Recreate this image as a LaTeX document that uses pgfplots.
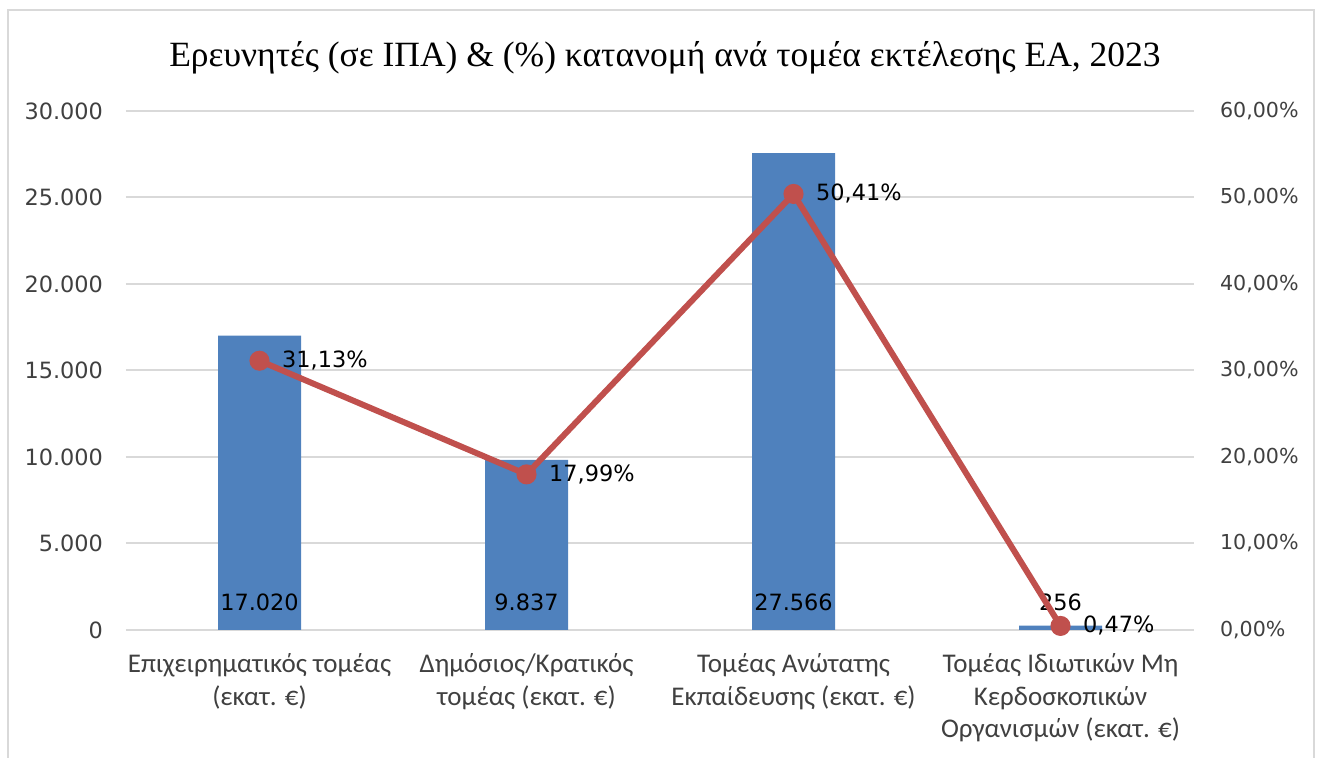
\documentclass[border=0pt]{standalone}
\usepackage{fontspec}
\setmainfont{Liberation Serif}
\newfontfamily\dejavu{DejaVu Sans}
\newfontfamily\carlito{Carlito}
\usepackage{pgfplots}
\pgfplotsset{compat=1.18}
\usetikzlibrary{calc}
\definecolor{barblue}{HTML}{4F81BD}
\definecolor{linered}{HTML}{C0504D}
\definecolor{gridgray}{HTML}{D9D9D9}
\definecolor{txt}{HTML}{404040}
\tikzset{lbl/.style={font=\dejavu\fontsize{11.2}{13}\selectfont,text=black}}

\begin{document}
\begin{tikzpicture}
\pgfplotsset{
  base/.style={scale only axis,width=534pt,height=259.5pt,
    xmin=-0.5,xmax=3.5,axis line style={draw=none},major tick length=0pt,
    tick label style={text=txt},
    clip=false}
}
\begin{axis}[base,name=ax,
  ymin=0,ymax=30000,ytick={0,5000,...,30000},
  scaled y ticks=false,
  yticklabel style={font=\dejavu\fontsize{11.2}{13}\selectfont,xshift=-8pt,/pgf/number format/1000 sep={.},/pgf/number format/assume math mode=true},
  ymajorgrids,grid style={gridgray,line width=1pt},
  xtick={0,1,2,3},
  xticklabels={{Επιχειρηματικός τομέας\\(εκατ. €)},{Δημόσιος/Κρατικός\\τομέας (εκατ. €)},{Τομέας Ανώτατης\\Εκπαίδευσης (εκατ. €)},{Τομέας Ιδιωτικών Μη\\Κερδοσκοπικών\\Οργανισμών (εκατ. €)}},
  xticklabel style={font=\carlito\fontsize{13.5}{16.3}\selectfont,align=center,text=txt,yshift=-8.3pt},
  title={Ερευνητές (σε ΙΠΑ) \& (\%) κατανομή ανά τομέα εκτέλεσης ΕΑ, 2023},
  title style={font=\fontsize{17.75}{21}\selectfont,at={(0.5,1)},anchor=center,yshift=20.5pt,xshift=2.5pt}]
\addplot[ybar,bar width=41.5pt,fill=barblue,draw=none] coordinates {(0,17020) (1,9837) (2,27566) (3,256)};
\addplot[draw=none,mark=none,nodes near coords,point meta=explicit symbolic,
  nodes near coords style={lbl,anchor=center,yshift=14pt}]
  coordinates {(0,0)[17.020] (1,0)[9.837] (2,0)[27.566] (3,0)[256]};
\end{axis}
\begin{axis}[base,
  ymin=0,ymax=60,ytick={0,10,...,60},
  axis y line*=right,axis x line=none,
  yticklabel={\pgfmathprintnumber[fixed,fixed zerofill,precision=2,use comma,assume math mode=true]{\tick}\%},
  yticklabel style={font=\dejavu\fontsize{10.3}{12}\selectfont,xshift=9.5pt}]
\addplot[linered,line width=3pt,mark=*,mark size=3.5pt,
  nodes near coords,point meta=explicit symbolic,
  nodes near coords style={lbl,anchor=west,xshift=6.5pt}]
  coordinates {(0,31.13)[31,13\%] (1,17.99)[17,99\%] (2,50.41)[50,41\%] (3,0.47)[0,47\%]};
\end{axis}
\pgfresetboundingbox
\path[use as bounding box] ($(ax.south west)+(-63pt,-64pt)$) rectangle ($(ax.north east)+(62.5pt,55.5pt)$);
\draw[gridgray,line width=1pt] ($(ax.south west)+(-59pt,-70pt)$) -- ($(ax.north west)+(-59pt,50.5pt)$) -- ($(ax.north east)+(60pt,50.5pt)$) -- ($(ax.south east)+(60pt,-70pt)$);
\end{tikzpicture}
\end{document}
